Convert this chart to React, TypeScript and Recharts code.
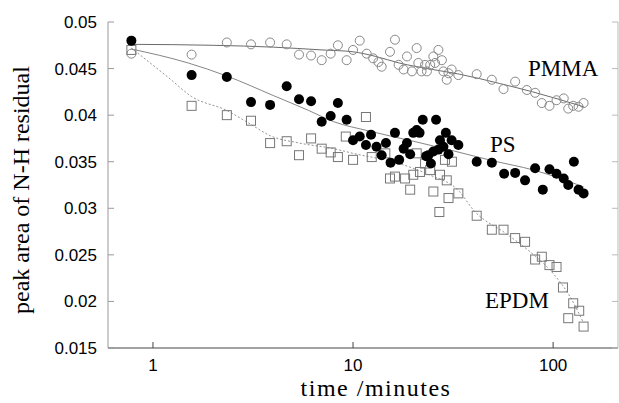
import React from 'react';
import { ComposedChart, Scatter, Line, XAxis, YAxis, Customized } from 'recharts';

// time (minutes) and peak area readings per polymer
const pmmaTime = [0.78, 1.56, 2.34, 3.09, 3.85, 4.66, 5.37, 6.17, 6.97, 7.73, 8.4, 9.29, 10.0, 10.8, 11.7, 12.6, 13.4, 13.9, 15.3, 16.2, 16.9, 17.9, 18.6, 19.7, 20.8, 21.2, 22.0, 22.9, 23.4, 24.3, 25.2, 25.7, 26.7, 27.8, 28.3, 29.4, 30.0, 31.1, 33.6, 41.5, 49.4, 56.5, 64.6, 73.9, 81.3, 87.8, 95.9, 104, 113, 119, 126, 134, 142];
const pmmaValue = [0.0466, 0.0465, 0.0478, 0.0476, 0.0478, 0.0476, 0.0465, 0.0464, 0.0459, 0.0466, 0.0475, 0.0459, 0.047, 0.048, 0.0466, 0.0461, 0.0457, 0.0452, 0.0468, 0.0481, 0.0454, 0.0449, 0.0463, 0.0447, 0.0472, 0.0456, 0.0447, 0.0454, 0.0447, 0.0454, 0.0463, 0.0456, 0.047, 0.0459, 0.0447, 0.0438, 0.0445, 0.0449, 0.0443, 0.0444, 0.0438, 0.0428, 0.0436, 0.0427, 0.0424, 0.0413, 0.041, 0.0416, 0.0418, 0.0407, 0.041, 0.0409, 0.0413];

const psTime = [0.78, 1.56, 2.34, 3.09, 3.85, 4.66, 5.37, 6.17, 6.97, 7.73, 8.4, 9.29, 10.0, 10.8, 11.6, 12.3, 13.1, 13.9, 14.6, 15.4, 16.2, 17.0, 17.9, 18.6, 19.3, 20.0, 20.8, 21.5, 22.3, 23.2, 23.8, 24.5, 25.2, 26.0, 26.7, 27.2, 28.3, 29.1, 30.0, 31.1, 33.6, 41.5, 49.4, 56.9, 64.6, 72.4, 81.3, 88.8, 95.9, 104, 113, 119, 127, 134, 142];
const psValue = [0.048, 0.0443, 0.0441, 0.0414, 0.0411, 0.0431, 0.0417, 0.0415, 0.0393, 0.0399, 0.0413, 0.0395, 0.0373, 0.0377, 0.0368, 0.0379, 0.0366, 0.0357, 0.037, 0.0349, 0.0381, 0.0352, 0.0364, 0.037, 0.0358, 0.0381, 0.0384, 0.0381, 0.0395, 0.0356, 0.0357, 0.0348, 0.0361, 0.0395, 0.0363, 0.0373, 0.0366, 0.0381, 0.0358, 0.0373, 0.0368, 0.035, 0.0349, 0.0337, 0.0338, 0.033, 0.0343, 0.032, 0.0342, 0.0337, 0.0332, 0.0325, 0.035, 0.032, 0.0316];

const epdmTime = [0.78, 1.56, 2.34, 3.09, 3.85, 4.66, 5.37, 6.17, 6.97, 7.73, 8.4, 9.2, 10.0, 11.6, 12.4, 14.5, 15.3, 16.2, 18.2, 19.3, 20.0, 20.8, 21.6, 22.9, 24.3, 25.2, 27.2, 27.0, 28.8, 29.4, 30.0, 31.2, 33.6, 41.5, 49.4, 56.5, 64.6, 72.4, 81.3, 87.8, 95.9, 104, 112, 119, 126, 135, 142];
const epdmValue = [0.047, 0.041, 0.04, 0.0394, 0.037, 0.0372, 0.0357, 0.0375, 0.0364, 0.036, 0.0355, 0.0377, 0.0352, 0.0398, 0.0355, 0.0359, 0.0332, 0.0334, 0.0332, 0.032, 0.0336, 0.0359, 0.0339, 0.0348, 0.0341, 0.0318, 0.0336, 0.0296, 0.0352, 0.033, 0.0311, 0.035, 0.0316, 0.0292, 0.0277, 0.0277, 0.0268, 0.0264, 0.0245, 0.0248, 0.0239, 0.0237, 0.0215, 0.0182, 0.0198, 0.019, 0.0173];

// fitted curves
const pmmaFitTime = [0.78, 2, 4, 7, 10, 13, 17, 25, 34, 54, 79, 142];
const pmmaFitValue = [0.0476, 0.0475, 0.0473, 0.047, 0.0468, 0.0463, 0.0456, 0.0449, 0.0444, 0.0434, 0.0425, 0.0409];
const psFitTime = [0.78, 1.5, 2.34, 4, 6, 8, 12, 20, 30, 50, 80, 142];
const psFitValue = [0.0471, 0.0456, 0.0442, 0.0421, 0.0405, 0.0393, 0.0383, 0.0372, 0.0363, 0.0351, 0.0341, 0.0323];
const epdmFitTime = [0.78, 1.2, 1.56, 2.34, 3.09, 3.85, 5.4, 8, 10, 17, 24, 34, 40, 58, 77, 100, 120, 142];
const epdmFitValue = [0.0472, 0.044, 0.042, 0.0405, 0.039, 0.0378, 0.037, 0.0364, 0.0359, 0.0348, 0.0336, 0.0318, 0.0298, 0.0273, 0.0253, 0.023, 0.0207, 0.0177];

const xTicks = [1, 10, 100];
const yTicks = [0.015, 0.02, 0.025, 0.03, 0.035, 0.04, 0.045, 0.05];

const pts = (ts: number[], vs: number[]) => ts.map((t, i) => ({ t, v: vs[i] }));

const sans = 'Liberation Sans, Arial, sans-serif';
const serif = 'Liberation Serif, Times New Roman, serif';

const OpenCircle = (p: any) => <circle cx={p.cx} cy={p.cy} r={4.5} fill="none" stroke="#888" strokeWidth={1} />;
const Dot = (p: any) => <circle cx={p.cx} cy={p.cy} r={5} fill="#000" />;
const Square = (p: any) => <rect x={p.cx - 4.5} y={p.cy - 4.5} width={9} height={9} fill="none" stroke="#777" strokeWidth={1} />;

const Texts = () => (
  <g fontFamily={serif} fill="#000">
    <text x={528} y={76} fontSize={23}>PMMA</text>
    <text x={490} y={152} fontSize={23}>PS</text>
    <text x={485} y={308} fontSize={23}>EPDM</text>
    <text x={376} y={396} fontSize={24} letterSpacing={1.5} textAnchor="middle">time /minutes</text>
    <text transform="translate(29,190) rotate(-90)" fontSize={24} textAnchor="middle">peak area of N-H residual</text>
  </g>
);

export default function App() {
  return (
    <div style={{ position: 'absolute', left: 0, top: 0, width: 619, height: 403, background: '#fff' }}>
      <ComposedChart width={619} height={403} margin={{ top: 22, right: 0, bottom: 0, left: 0 }}>
        <XAxis xAxisId="b" dataKey="t" type="number" scale="log" domain={[0.596, 211]} allowDataOverflow
          ticks={xTicks} height={55} tickSize={-6} tickMargin={17} stroke="#444"
          tick={{ fill: '#000', fontSize: 17, fontFamily: sans }} />
        <XAxis xAxisId="top" orientation="top" dataKey="t" type="number" scale="log" domain={[0.596, 211]} allowDataOverflow
          ticks={xTicks} height={0} tickSize={-6} axisLine={{ stroke: '#aaa', strokeWidth: 2 }} tickLine={{ stroke: '#888' }} tickFormatter={() => ''} />
        <YAxis yAxisId="l" type="number" domain={[0.015, 0.05]} allowDataOverflow ticks={yTicks} width={108}
          tickSize={-6} tickMargin={17} stroke="#999"
          tick={{ fill: '#000', fontSize: 17, fontFamily: sans }} />
        <YAxis yAxisId="r" orientation="right" type="number" domain={[0.015, 0.05]} allowDataOverflow ticks={yTicks} width={1}
          tickSize={-6} stroke="#bbb" tickFormatter={() => ''} />

        <Line xAxisId="b" yAxisId="l" data={pts(pmmaFitTime, pmmaFitValue)} dataKey="v" type="monotone" stroke="#444" strokeWidth={0.8} dot={false} isAnimationActive={false} />
        <Line xAxisId="b" yAxisId="l" data={pts(psFitTime, psFitValue)} dataKey="v" type="monotone" stroke="#666" strokeWidth={0.8} dot={false} isAnimationActive={false} />
        <Line xAxisId="b" yAxisId="l" data={pts(epdmFitTime, epdmFitValue)} dataKey="v" type="monotone" stroke="#777" strokeWidth={0.8} strokeDasharray="2 2" dot={false} isAnimationActive={false} />

        <Scatter xAxisId="b" yAxisId="l" data={pts(pmmaTime, pmmaValue)} dataKey="v" shape={OpenCircle} isAnimationActive={false} />
        <Scatter xAxisId="b" yAxisId="l" data={pts(epdmTime, epdmValue)} dataKey="v" shape={Square} isAnimationActive={false} />
        <Scatter xAxisId="b" yAxisId="l" data={pts(psTime, psValue)} dataKey="v" shape={Dot} isAnimationActive={false} />

        <Customized component={Texts} />
      </ComposedChart>
    </div>
  );
}
